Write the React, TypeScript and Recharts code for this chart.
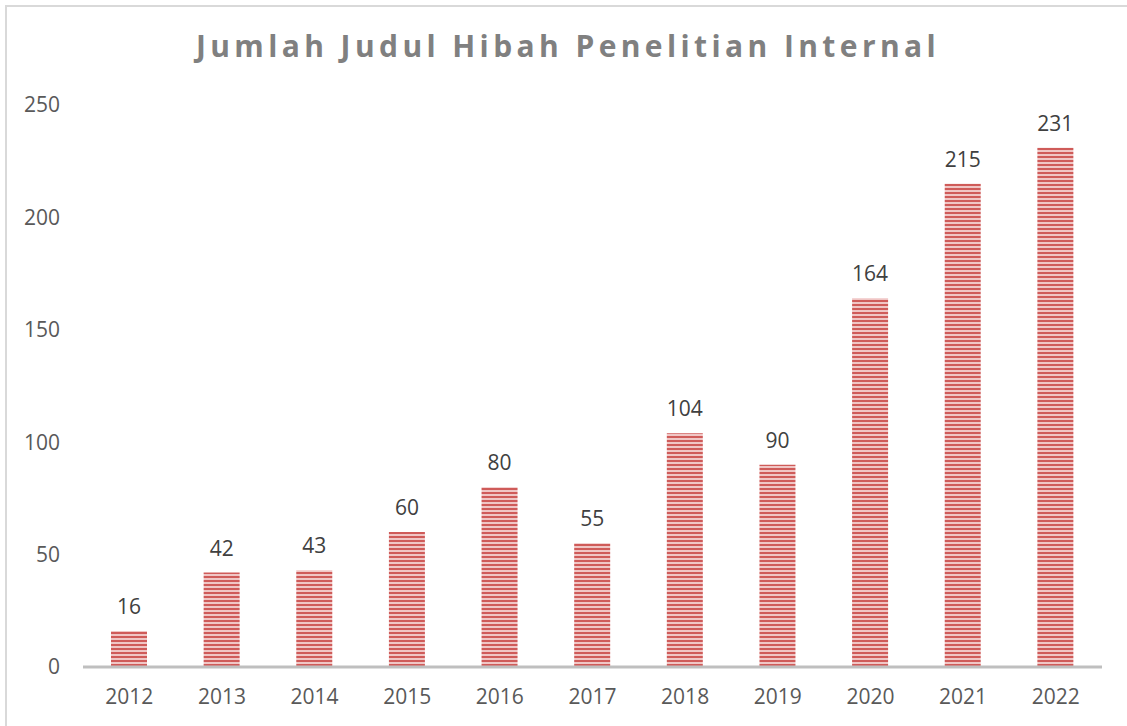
import React from "react";
import { BarChart, Bar, XAxis, YAxis, LabelList } from "recharts";

const years = ["2012", "2013", "2014", "2015", "2016", "2017", "2018", "2019", "2020", "2021", "2022"];
const counts = [16, 42, 43, 60, 80, 55, 104, 90, 164, 215, 231];
const yTicks = [0, 50, 100, 150, 200, 250];

const data = years.map((y, i) => ({ year: y, value: counts[i] }));

const FONT = "'Open Sans', 'Liberation Sans', sans-serif";

export default function App() {
  return (
    <div style={{ position: "absolute", left: 0, top: 0, width: 1127, height: 726, background: "#fff", overflow: "hidden" }}>
      <div
        style={{
          position: "absolute",
          left: 5,
          top: 5,
          width: 1200,
          height: 800,
          borderLeft: "2px solid #d9d9d9",
          borderTop: "2px solid #d9d9d9",
        }}
      />
      <div
        style={{
          position: "absolute",
          left: 0,
          top: 24,
          width: 1136,
          textAlign: "center",
          fontFamily: FONT,
          fontWeight: 700,
          fontSize: 30,
          letterSpacing: 4.4,
          color: "#808080",
          lineHeight: "44px",
        }}
      >
        Jumlah Judul Hibah Penelitian Internal
      </div>
      <div style={{ position: "absolute", left: 0, top: 0 }}>
        <BarChart width={1127} height={726} data={data} margin={{ top: 105, right: 25, bottom: 29, left: 0 }}>
          <defs>
            <pattern id="stripes" width="6" height="4" patternUnits="userSpaceOnUse">
              <rect x="0" y="0" width="6" height="4" fill="#f0c6c5" />
              <rect x="0" y="0" width="6" height="2" fill="#cf5b59" />
            </pattern>
          </defs>
          <XAxis
            dataKey="year"
            height={30}
            axisLine={{ stroke: "#bfbfbf", strokeWidth: 3 }}
            tickLine={false}
            tickSize={0}
            tickMargin={22}
            tick={{ fill: "#595959", fontSize: 21, fontFamily: FONT }}
            interval={0}
          />
          <YAxis
            domain={[0, 250]}
            ticks={yTicks}
            width={83}
            axisLine={false}
            tickLine={false}
            tickSize={0}
            tickMargin={23}
            tick={{ fill: "#595959", fontSize: 21, fontFamily: FONT }}
          />
          <Bar dataKey="value" fill="url(#stripes)" barSize={36} isAnimationActive={false}>
            <LabelList
              dataKey="value"
              position="top"
              offset={17}
              style={{ fill: "#404040", fontSize: 21, fontFamily: FONT }}
            />
          </Bar>
        </BarChart>
      </div>
    </div>
  );
}
